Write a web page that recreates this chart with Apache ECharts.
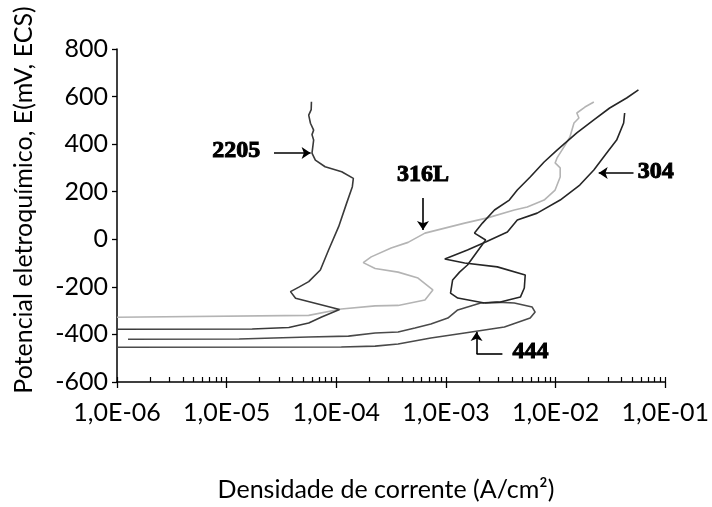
<!DOCTYPE html>
<html><head><meta charset="utf-8">
<script src="https://cdn.jsdelivr.net/npm/echarts@6/dist/echarts.min.js"></script>
<style>html,body{margin:0;padding:0;background:#fff}#c{width:712px;height:507px}</style>
</head><body><div id="c"></div>
<script>
// ---- data (current density A/cm2, potential mV) ----
const xTickLabels = ['1,0E-06','1,0E-05','1,0E-04','1,0E-03','1,0E-02','1,0E-01'];
const yTickValues = [-600,-400,-200,0,200,400,600,800];
const seriesNames = ['2205','316L','304','444'];

const s2205 = [[1.0e-6,-378],[1.71e-5,-377],[3.69e-5,-371],[5.6e-5,-352],[7.35e-5,-327],[1.07e-4,-295],
  [4.25e-5,-248],[3.82e-5,-220],[4.6e-5,-200],[5.6e-5,-178],[7.15e-5,-129],[8.5e-5,-45],[1.05e-4,53],
  [1.24e-4,151],[1.40e-4,221],[1.43e-4,256],[1.12e-4,284],[7.9e-5,305],[6.44e-5,333],[6.0e-5,362],
  [6.21e-5,417],[6.0e-5,440],[6.21e-5,459],[5.81e-5,488],[5.6e-5,522],[5.9e-5,545],[5.93e-5,578]];

const s316L = [[1.0e-6,-328],[5.6e-5,-320],[1.11e-4,-293],[2.26e-4,-280],[3.66e-4,-278],[6.43e-4,-255],
  [7.59e-4,-213],[5.56e-4,-163],[3.66e-4,-138],[2.26e-4,-123],[1.76e-4,-98],[2.08e-4,-74],[3.16e-4,-37],
  [4.51e-4,-13],[6.43e-4,26],[1.48e-3,68],[2.39e-3,90],[4.2e-3,123],[5.51e-3,136],[7.85e-3,165],
  [9.89e-3,207],[1.10e-2,262],[1.10e-2,300],[9.89e-3,321],[1.03e-2,342],[1.22e-2,396],[1.35e-2,430],
  [1.47e-2,489],[1.63e-2,510],[1.56e-2,531],[1.85e-2,556],[2.23e-2,577]];

const s304Forward = [[2.24e-3,-268],[1.28e-3,-247],[1.10e-3,-226],[1.15e-3,-171],[1.33e-3,-138],[1.57e-3,-108],
  [2.30e-3,-3],[1.82e-3,26],[2.15e-3,68],[2.77e-3,123],[3.78e-3,165],[4.47e-3,207],[5.86e-3,262],
  [7.85e-3,325],[1.03e-2,375],[1.56e-2,447],[2.23e-2,502],[3.11e-2,552],[4.44e-2,594],[5.69e-2,628]];

const s304Reverse = [[4.26e-2,531],[4.17e-2,489],[3.6e-2,417],[2.92e-2,363],[2.23e-2,291],[1.66e-2,228],
  [1.10e-2,165],[6.79e-3,110],[4.47e-3,81],[3.63e-3,31],[2.30e-3,-11],[1.57e-3,-45],[9.75e-4,-83],
  [1.48e-3,-100],[2.94e-3,-116],[5.28e-3,-150],[5.18e-3,-205],[4.77e-3,-243],[3.13e-3,-264],[2.24e-3,-268]];

const s444 = [[1.0e-6,-454],[1.11e-4,-453],[2.26e-4,-449],[3.66e-4,-440],[7.28e-4,-415],[1.48e-3,-394],
  [3.41e-3,-369],[5.86e-3,-331],[6.5e-3,-306],[6.11e-3,-285],[4.2e-3,-268],[2.94e-3,-264],[2.07e-3,-268],
  [1.28e-3,-297],[1.04e-3,-331],[7.28e-4,-356],[5.21e-4,-373],[3.66e-4,-390],[2.26e-4,-394],[1.29e-4,-407],
  [5.6e-5,-411],[1.30e-5,-419],[1.26e-6,-420]];

// annotation anchors (data coordinates)
const labelAnchors = [
  {name:'2205', at:[1.22e-5,371]},
  {name:'316L', at:[6.17e-4,270]},
  {name:'304',  at:[8.2e-2,283]},
  {name:'444',  at:[5.9e-3,-474]}
];
const arrowSegments = [
  {from:[2.70e-5,363], to:[5.83e-5,363], head:true},
  {from:[6.17e-4,174], to:[6.17e-4,39], head:true},
  {from:[5.13e-2,279], to:[2.47e-2,279], head:true},
  {from:[3.27e-3,-482], to:[1.90e-3,-482], head:false},
  {from:[1.90e-3,-482], to:[1.90e-3,-390], head:true}
];

// minor tick positions on log axis (1..9 x 10^k)
const minorTickValues = [];
for (let e = -6; e < -1; e++) for (let m = 1; m <= 9; m++) minorTickValues.push(m * Math.pow(10, e));
minorTickValues.push(1e-1);

const chart = echarts.init(document.getElementById('c'), null, {renderer:'canvas'});
const FONT = 'Lato';
const lineCommon = {type:'line', showSymbol:false, symbol:'none', smooth:false, animation:false};

const option = {
  animation:false,
  backgroundColor:'#fff',
  grid:{left:117, right:43, top:49, bottom:125},
  xAxis:[{
    type:'log', logBase:10, min:1e-6, max:1e-1, splitNumber:5,
    axisLine:{show:true, onZero:false, lineStyle:{color:'#000', width:1.5}},
    axisTick:{show:true, inside:false, length:6, lineStyle:{color:'#000', width:1.3}},
    splitLine:{show:false},
    axisLabel:{margin:18, fontFamily:FONT, fontSize:25, color:'#000',
      formatter:v => xTickLabels[Math.round(Math.log10(v)) + 6] || ''}
  },{
    type:'log', logBase:10, min:1e-6, max:1e-1, position:'bottom',
    axisLine:{show:false, onZero:false},
    axisTick:{show:true, inside:true, length:5, customValues:minorTickValues, lineStyle:{color:'#000', width:1.2}},
    axisLabel:{show:false}, splitLine:{show:false}
  }],
  yAxis:{
    type:'value', min:-600, max:800, interval:200,
    axisLine:{show:true, onZero:false, lineStyle:{color:'#000', width:1.5}},
    axisTick:{show:true, inside:false, length:5, lineStyle:{color:'#000', width:1.3}},
    splitLine:{show:false},
    axisLabel:{margin:9, fontFamily:FONT, fontSize:25, color:'#000',
      formatter:v => yTickValues.includes(v) ? String(v) : ''}
  },
  graphic:[
    {type:'text', x:386, y:490, style:{text:'Densidade de corrente (A/cm²)', font:'25px Lato', fill:'#000', align:'center', verticalAlign:'middle'}},
    {type:'text', x:24, y:200, rotation:Math.PI/2, style:{text:'Potencial eletroquímico, E(mV, ECS)', font:'25px Lato', fill:'#000', align:'center', verticalAlign:'middle'}}
  ],
  series:[
    Object.assign({}, lineCommon, {name:seriesNames[1], data:s316L, lineStyle:{color:'#b4b4b4', width:1.6}, z:2}),
    Object.assign({}, lineCommon, {name:seriesNames[3], data:s444, lineStyle:{color:'#4a4a4a', width:1.6}, z:3}),
    Object.assign({}, lineCommon, {name:seriesNames[0], data:s2205, lineStyle:{color:'#3a3a3a', width:1.6}, z:4}),
    Object.assign({}, lineCommon, {name:seriesNames[2], data:s304Forward, lineStyle:{color:'#262626', width:1.6}, z:4}),
    Object.assign({}, lineCommon, {name:seriesNames[2] + ' rev', data:s304Reverse, lineStyle:{color:'#262626', width:1.6}, z:4}),
    {
      type:'scatter', name:'labels', symbolSize:0, z:6, animation:false, silent:true,
      itemStyle:{color:'#000', opacity:1},
      data:labelAnchors.map(a => ({name:a.name, value:a.at})),
      label:{show:true, position:'inside', formatter:p => p.name, fontFamily:'Liberation Serif', fontWeight:'bold', fontSize:24,
        color:'#000', opacity:1, textBorderColor:'#000', textBorderWidth:1},
      markLine:{
        silent:true, animation:false, symbolSize:[0,9],
        label:{show:false},
        lineStyle:{color:'#000', width:1.6, type:'solid'},
        data:arrowSegments.map(s => [
          {coord:s.from, symbol:'none'},
          {coord:s.to, symbol:s.head ? 'arrow' : 'none', symbolSize:9}
        ])
      }
    }
  ]
};
chart.setOption(option);
</script>
</body></html>
